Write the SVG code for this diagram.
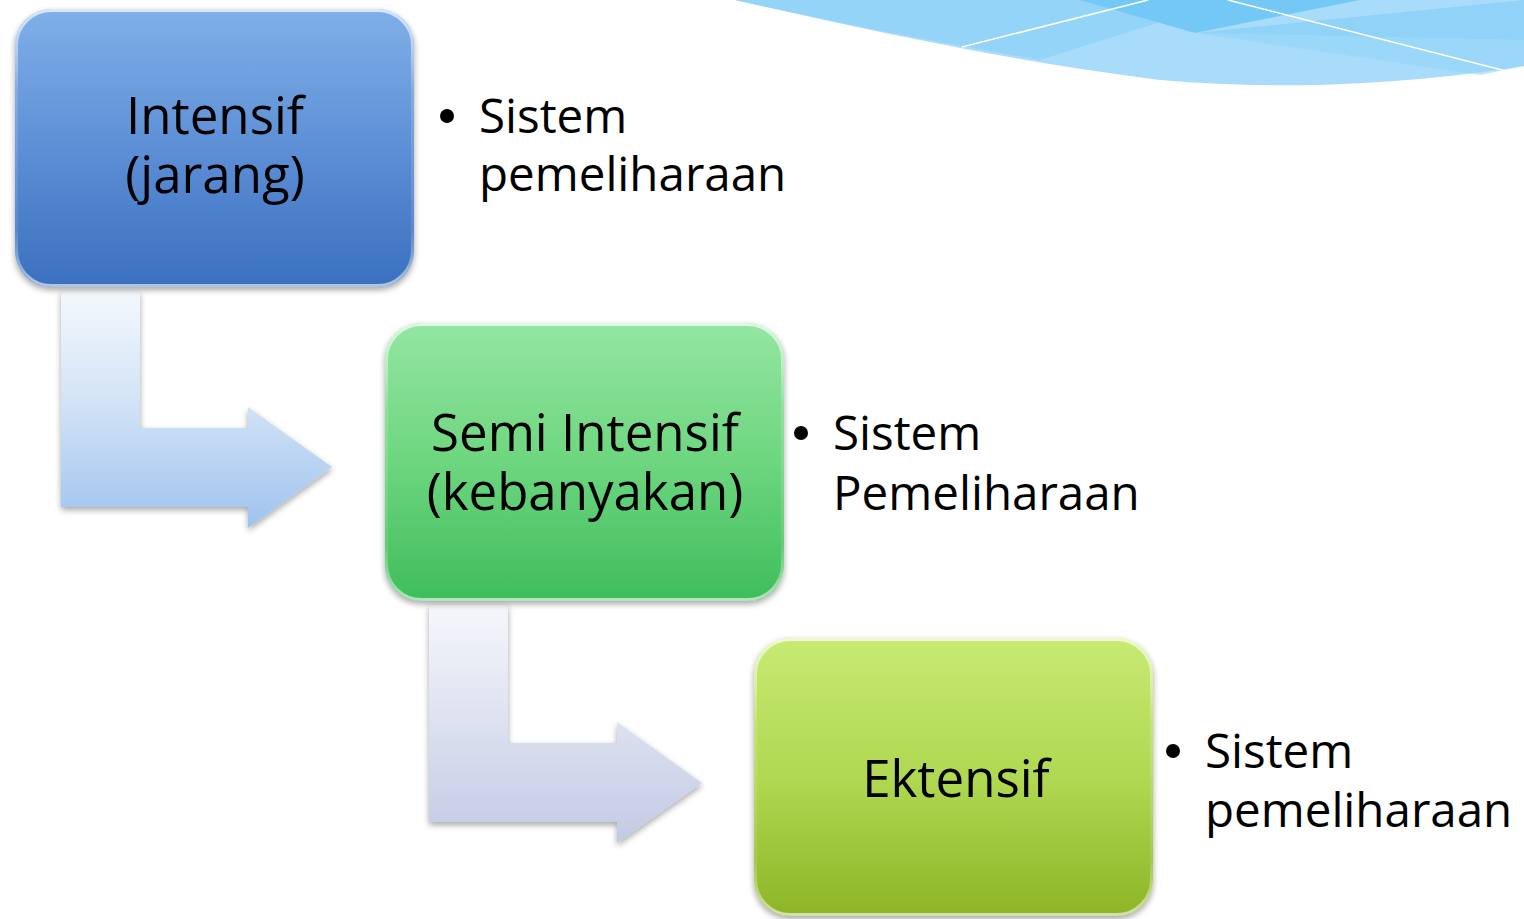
<svg xmlns="http://www.w3.org/2000/svg" width="1524" height="919" viewBox="0 0 1524 919">
  <style>
    .box-label { font-family: "Open Sans", "Noto Sans", sans-serif; font-size: 51px; fill: #000; text-anchor: middle; }
    .note { font-family: "Open Sans", "Noto Sans", sans-serif; font-size: 47.5px; fill: #000; }
    .rim { fill: none; stroke: url(#rimGrad); stroke-width: 3; }
  </style>
  <defs>
    <linearGradient id="blueFill" x1="0" y1="0" x2="0" y2="1">
      <stop offset="0" stop-color="#80b0e8"/>
      <stop offset="0.5" stop-color="#5d8fd6"/>
      <stop offset="1" stop-color="#3a70be"/>
    </linearGradient>
    <linearGradient id="greenFill" x1="0" y1="0" x2="0" y2="1">
      <stop offset="0" stop-color="#94e6a2"/>
      <stop offset="0.5" stop-color="#6dd67f"/>
      <stop offset="1" stop-color="#3fbd5b"/>
    </linearGradient>
    <linearGradient id="limeFill" x1="0" y1="0" x2="0" y2="1">
      <stop offset="0" stop-color="#c8ea72"/>
      <stop offset="0.5" stop-color="#b0d852"/>
      <stop offset="1" stop-color="#8db526"/>
    </linearGradient>
    <linearGradient id="rimGrad" x1="0" y1="0" x2="0" y2="1">
      <stop offset="0" stop-color="#ffffff" stop-opacity="0.7"/>
      <stop offset="0.3" stop-color="#ffffff" stop-opacity="0.15"/>
      <stop offset="0.8" stop-color="#ffffff" stop-opacity="0.1"/>
      <stop offset="1" stop-color="#ffffff" stop-opacity="0.6"/>
    </linearGradient>
    <linearGradient id="arrowBlue" x1="0" y1="0" x2="0" y2="1">
      <stop offset="0" stop-color="#f4f8fd"/>
      <stop offset="0.45" stop-color="#d4e4f7"/>
      <stop offset="1" stop-color="#9fc3ee"/>
    </linearGradient>
    <linearGradient id="arrowGrey" x1="0" y1="0" x2="0" y2="1">
      <stop offset="0" stop-color="#f6f7fb"/>
      <stop offset="0.45" stop-color="#dfe3f1"/>
      <stop offset="1" stop-color="#c2cae4"/>
    </linearGradient>
    <filter id="shadow" x="-10%" y="-10%" width="120%" height="125%">
      <feGaussianBlur in="SourceAlpha" stdDeviation="3"/>
      <feOffset dx="0" dy="3" result="b"/>
      <feComponentTransfer><feFuncA type="linear" slope="0.35"/></feComponentTransfer>
      <feMerge><feMergeNode/><feMergeNode in="SourceGraphic"/></feMerge>
    </filter>
  </defs>

  <!-- decorative wave, top right -->
  <g id="wave">
    <path d="M735,0 C860,28 1000,60 1160,80 C1300,92 1420,82 1524,66 L1524,0 Z" fill="#a9dcfa"/>
    <path d="M735,0 C860,28 960,46 1040,60 L1230,0 Z" fill="#94d4f8"/>
    <path d="M1080,0 L1195,33 L1360,0 Z" fill="#74c8f6"/>
    <path d="M1195,33 L1524,0 L1524,40 Z" fill="#8ad0f7" opacity="0.8"/>
    <path d="M1195,33 L1480,75 L1524,66 L1524,40 Z" fill="#92d3f8" opacity="0.6"/>
    <line x1="962" y1="47" x2="1148" y2="0" stroke="#ffffff" stroke-width="1.5"/>
    <line x1="1228" y1="0" x2="1510" y2="72" stroke="#ffffff" stroke-width="1.5"/>
  </g>

  <!-- connectors -->
  <g id="connectors" filter="url(#shadow)">
    <path d="M61,291 L140,291 L140,428 L248,428 L248,407 L332,467 L248,528 L248,507 L61,507 Z" fill="url(#arrowBlue)"/>
    <path d="M429,605 L508,605 L508,743 L617,743 L617,722 L702,783 L617,843 L617,822 L429,822 Z" fill="url(#arrowGrey)"/>
  </g>

  <!-- node: Intensif -->
  <g id="node-intensif" filter="url(#shadow)">
    <rect x="15" y="9" width="399" height="278" rx="36" fill="url(#blueFill)"/>
    <rect x="16.5" y="10.5" width="396" height="275" rx="35" class="rim"/>
    <text class="box-label" x="215" y="134">Intensif</text>
    <text class="box-label" x="215" y="193">(jarang)</text>
  </g>

  <!-- node: Semi Intensif -->
  <g id="node-semi" filter="url(#shadow)">
    <rect x="385" y="323" width="399" height="278" rx="36" fill="url(#greenFill)"/>
    <rect x="386.5" y="324.5" width="396" height="275" rx="35" class="rim"/>
    <text class="box-label" x="585" y="451">Semi Intensif</text>
    <text class="box-label" x="585" y="510">(kebanyakan)</text>
  </g>

  <!-- node: Ektensif -->
  <g id="node-ektensif" filter="url(#shadow)">
    <rect x="754" y="638" width="399" height="278" rx="36" fill="url(#limeFill)"/>
    <rect x="755.5" y="639.5" width="396" height="275" rx="35" class="rim"/>
    <text class="box-label" x="956" y="797">Ektensif</text>
  </g>

  <!-- notes beside each node -->
  <g id="note-intensif">
    <circle cx="447" cy="116" r="7" fill="#000"/>
    <text class="note" x="479" y="133">Sistem</text>
    <text class="note" x="479" y="191">pemeliharaan</text>
  </g>
  <g id="note-semi">
    <circle cx="801" cy="433" r="7" fill="#000"/>
    <text class="note" x="833" y="450">Sistem</text>
    <text class="note" x="833" y="510">Pemeliharaan</text>
  </g>
  <g id="note-ektensif">
    <circle cx="1173" cy="751" r="7" fill="#000"/>
    <text class="note" x="1205" y="768">Sistem</text>
    <text class="note" x="1205" y="827">pemeliharaan</text>
  </g>
</svg>
